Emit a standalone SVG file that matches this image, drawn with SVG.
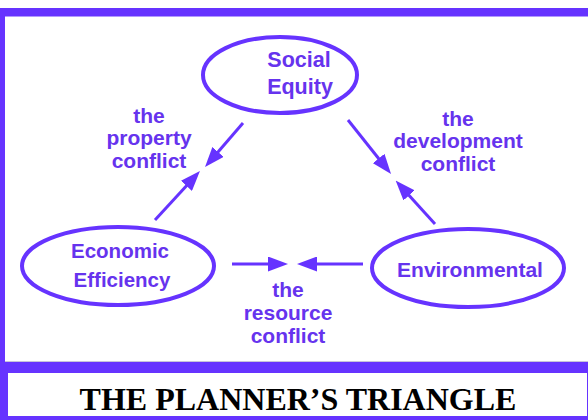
<svg xmlns="http://www.w3.org/2000/svg" width="588" height="420" viewBox="0 0 588 420">
  <style>
    .frame { fill: #6633ff; }
    .node ellipse { fill: none; stroke: #6633ff; stroke-width: 4; }
    .lbl { font-family: "Liberation Sans", Arial, sans-serif; font-weight: bold; font-size: 21px; fill: #6633ee; text-anchor: middle; }
    .conn line { stroke: #6633ff; stroke-width: 3; marker-end: url(#head); }
    .title { font-family: "Liberation Serif", "Times New Roman", serif; font-weight: bold; font-size: 32px; fill: #000; text-anchor: middle; }
  </style>
  <defs>
    <marker id="head" viewBox="0 0 20 15" refX="9" refY="7.5" markerWidth="20" markerHeight="15" markerUnits="userSpaceOnUse" orient="auto">
      <path d="M0,0 L20,7.5 L0,15 z" fill="#6633ff"/>
    </marker>
  </defs>

  <!-- page background and frame -->
  <rect x="0" y="0" width="588" height="420" fill="#ffffff"/>
  <rect class="frame" x="0" y="8" width="588" height="8.5"/>
  <rect class="frame" x="0" y="8" width="5" height="412"/>
  <line x1="5" y1="361.5" x2="588" y2="361.5" stroke="#c8c4d8" stroke-width="1"/>
  <rect class="frame" x="0" y="362" width="588" height="11"/>
  <rect class="frame" x="0" y="373" width="8" height="47"/>
  <rect class="frame" x="0" y="416" width="588" height="4"/>
  <rect class="frame" x="587" y="373" width="1" height="47"/>

  <!-- vertices of the triangle -->
  <g id="social-equity" class="node">
    <ellipse cx="280" cy="75" rx="77" ry="38"/>
    <text class="lbl" x="299" y="67" style="font-size:21.5px">Social</text>
    <text class="lbl" x="300" y="94" style="font-size:21.5px">Equity</text>
  </g>
  <g id="economic-efficiency" class="node">
    <ellipse cx="118" cy="266" rx="96" ry="39"/>
    <text class="lbl" x="120" y="258" style="font-size:20.5px">Economic</text>
    <text class="lbl" x="122" y="287" style="font-size:20.5px">Efficiency</text>
  </g>
  <g id="environmental" class="node">
    <ellipse cx="468" cy="268" rx="96" ry="39"/>
    <text class="lbl" x="470" y="277">Environmental</text>
  </g>

  <!-- conflict labels -->
  <g id="property-conflict">
    <text class="lbl" x="149" y="123">the</text>
    <text class="lbl" x="149" y="145">property</text>
    <text class="lbl" x="149" y="168">conflict</text>
  </g>
  <g id="development-conflict">
    <text class="lbl" x="458" y="126">the</text>
    <text class="lbl" x="458" y="148">development</text>
    <text class="lbl" x="458" y="171">conflict</text>
  </g>
  <g id="resource-conflict">
    <text class="lbl" x="288" y="297">the</text>
    <text class="lbl" x="288" y="320">resource</text>
    <text class="lbl" x="288" y="343">conflict</text>
  </g>

  <!-- connectors: paired arrows meeting at each conflict -->
  <g id="connectors" class="conn">
    <line x1="243" y1="123" x2="212.2" y2="158.7"/>
    <line x1="155" y1="220" x2="192.5" y2="179.2"/>
    <line x1="348" y1="120" x2="384.2" y2="165.5"/>
    <line x1="435" y1="224" x2="403.0" y2="188.7"/>
    <line x1="232" y1="264" x2="277" y2="264"/>
    <line x1="363" y1="264" x2="308" y2="264"/>
  </g>

  <!-- caption -->
  <text class="title" x="298" y="410">THE PLANNER’S TRIANGLE</text>
</svg>
